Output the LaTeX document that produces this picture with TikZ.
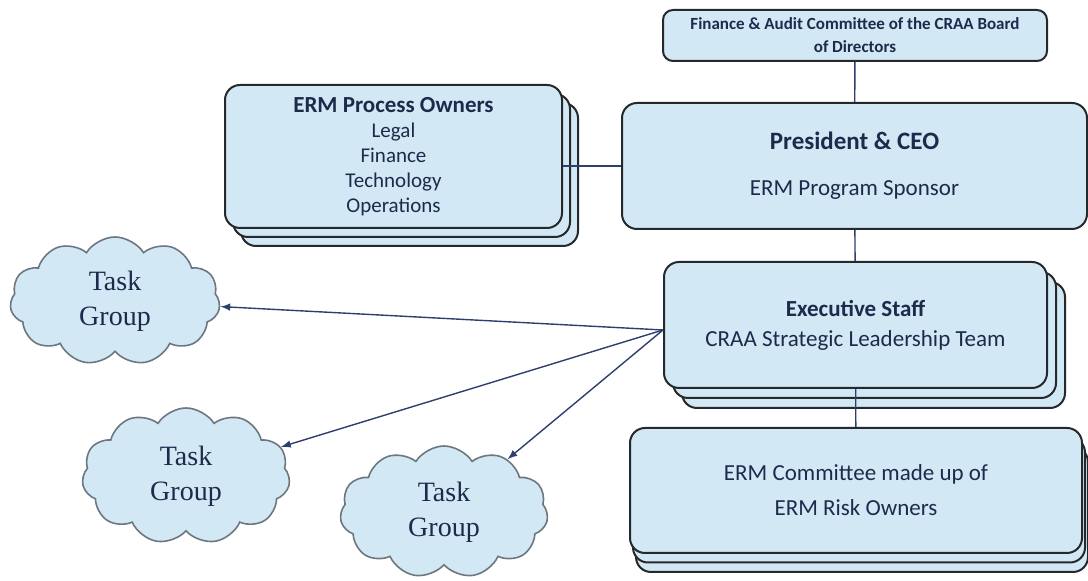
\documentclass[tikz,border=0pt]{standalone}
\usepackage{fontspec}
\setmainfont{Carlito}
\newfontfamily\cloudfont{Liberation Serif}
\usetikzlibrary{
	shapes.symbols
	,shadows
	,arrows
}
\definecolor{boxfill}{HTML}{D2E8F4}
\definecolor{boxline}{HTML}{26292C}
\definecolor{inkblue}{HTML}{1C2B4C}
\definecolor{wire}{HTML}{2E3F6E}
\definecolor{cloudline}{HTML}{6E7780}
\newcommand{\link}[3][]{
	\draw[#1] (#2) -- (#3);
}
\tikzset{
	org box/.style={
		draw=boxline
		,fill=boxfill
		,line width=1pt
		,rounded corners=7.5pt
		,text=inkblue
		,align=center
		,inner sep=0pt
	},
	stacked/.style 2 args={
		double copy shadow={
			shadow xshift=#1
			,shadow yshift=#2
			,fill=boxfill
			,draw=boxline
			,line width=1pt
		}
	},
	task group/.style={
		cloud
		,cloud puffs=11
		,cloud puff arc=115
		,aspect=1.6
		,draw=cloudline
		,fill=boxfill
		,line width=0.8pt
		,inner sep=0pt
		,text=inkblue
		,align=center
		,font=\cloudfont\fontsize{14}{17.5}\selectfont
	}
}
\tikzset{
	>=latex
	,every picture/.append style={wire, line width=0.7pt}
}
\begin{document}
\begin{tikzpicture}[x=0.5pt,y=-0.5pt]
	\useasboundingbox (0,0) rectangle (1088,581);

	\node[org box, rounded corners=5pt, minimum width=192pt, minimum height=25.5pt,
		font=\bfseries\fontsize{8.5}{11.5}\selectfont](board) at(855,35.5)
		{Finance \& Audit Committee of the CRAA Board\\of Directors};

	\node[org box, minimum width=232.5pt, minimum height=63pt,
		font=\fontsize{11.5}{14}\selectfont](ceo) at(854.5,166)
		{\textbf{\fontsize{12.5}{15}\selectfont President \& CEO}\\[9pt]ERM Program Sponsor};

	\node[org box, stacked={4pt}{-4.5pt}, minimum width=168.5pt, minimum height=71.5pt,
		font=\fontsize{10.5}{12.5}\selectfont](owners) at(393.5,156.5)
		{\textbf{\fontsize{11.5}{12.5}\selectfont ERM Process Owners}\\Legal\\Finance\\Technology\\Operations};

	\node[org box, stacked={4.5pt}{-5pt}, minimum width=191.5pt, minimum height=63pt,
		font=\fontsize{11.5}{15}\selectfont](exec) at(855.5,325)
		{\textbf{Executive Staff}\\CRAA Strategic Leadership Team};

	\node[org box, stacked={1.5pt}{-4.75pt}, minimum width=226pt, minimum height=62.5pt,
		font=\fontsize{11.5}{17.5}\selectfont](erm) at(856,490.5)
		{ERM Committee made up of\\ERM Risk Owners};

	% task groups
	\node[task group, minimum width=105pt, minimum height=64pt](tg1) at(115,301){Task\\Group};
	\node[task group, minimum width=104pt, minimum height=68pt](tg2) at(186,476){Task\\Group};
	\node[task group, minimum width=104pt, minimum height=66pt](tg3) at(444,512){Task\\Group};

	% reporting lines
	\link{board}{ceo}
	\link{owners.east |- ceo.west}{ceo.west}
	\link{ceo}{exec}
	\link{exec}{erm}

	\coordinate (fan) at ([yshift=-2.5pt]exec.west);
	\foreach \g in {1,2,3}{
		\link[->]{fan}{tg\g}
	}
\end{tikzpicture}
\end{document}
